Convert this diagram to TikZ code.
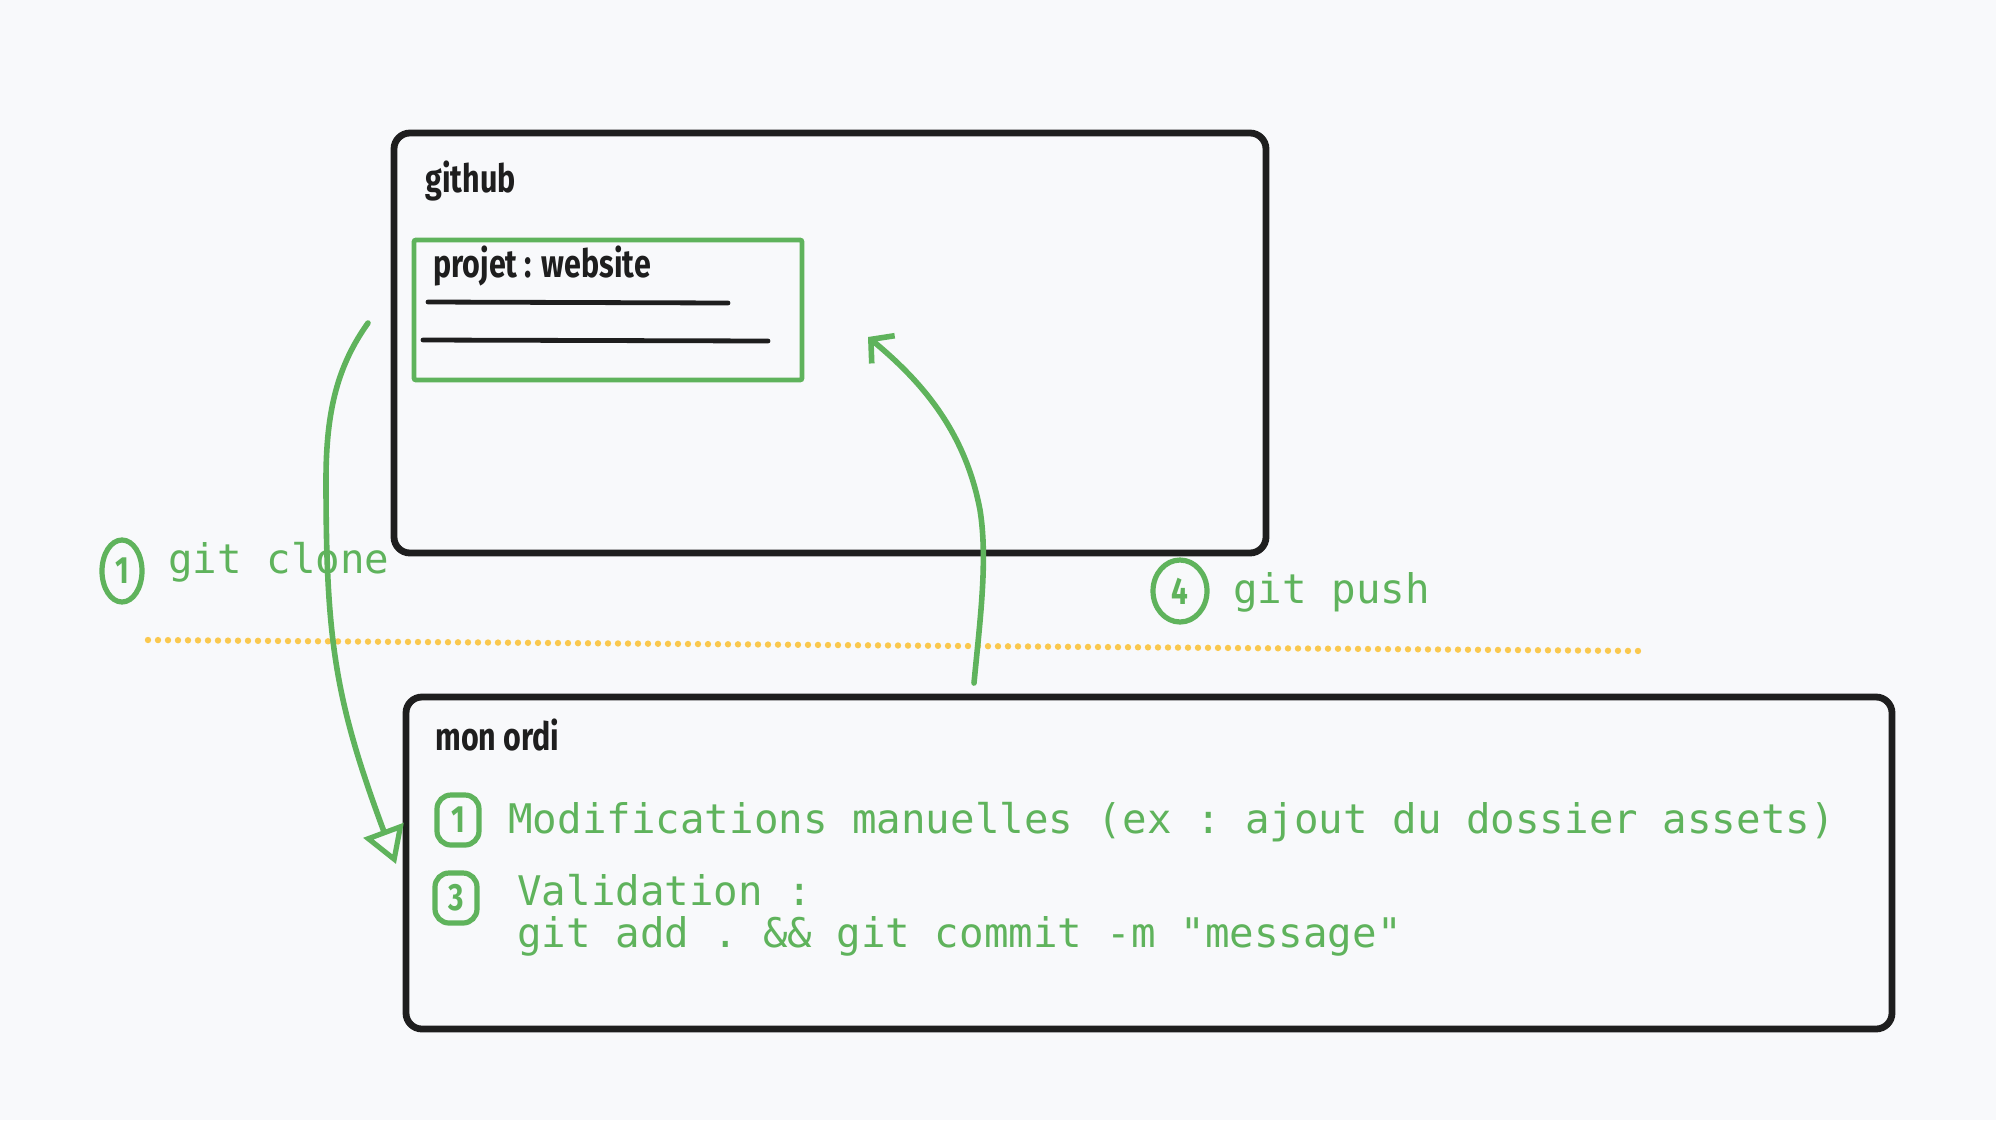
\documentclass[tikz,border=0pt]{standalone}
\usepackage{fontspec}
\setmonofont{DejaVu Sans Mono}
\newfontfamily\handfont{Fira Sans}[FakeStretch=0.78]
\usetikzlibrary{arrows.meta,shapes.geometric}
\definecolor{exgreen}{HTML}{5FB35C}
\definecolor{exink}{HTML}{1E1E1E}
\definecolor{exyellow}{HTML}{FAC84E}
\definecolor{expaper}{HTML}{F8F9FB}
\tikzset{
    box/.style={draw=exink, line width=3.4pt, rounded corners=8pt, inner sep=0pt},
    repo/.style={draw=exgreen, line width=2.4pt, rounded corners=1pt, inner sep=0pt},
    title/.style={font=\handfont\bfseries\fontsize{19.5}{22}\selectfont, text=exink, anchor=base west, inner sep=0pt},
    cmd/.style={font=\ttfamily\fontsize{20.4}{24}\selectfont, text=exgreen, anchor=base west, inner sep=0pt},
    stepmark/.style={draw=exgreen, line width=2.6pt, text=exgreen, inner sep=0pt,
        font=\handfont\bfseries\fontsize{19}{19}\selectfont},
    flow/.style={draw=exgreen, line width=2.8pt, line cap=round},
}

\begin{document}
\begin{tikzpicture}[x=0.5pt, y=-0.5pt]
        \path[use as bounding box, fill=expaper] (0,0) rectangle (1996,1120);
        % boxes
        \node (gh) [box, minimum width=436pt, minimum height=210pt] at (830, 343) {};
        \node (ordi) [box, minimum width=743pt, minimum height=166pt] at (1149, 863) {};
        \node (proj) [repo, minimum width=194pt, minimum height=70pt] at (608, 310) {};
        \node (gh-t) [title] at (425, 192) {github};
        \node (proj-t) [title] at (433, 277) {projet : website};
        \node (ordi-t) [title] at (435, 750) {mon ordi};
        \draw [exink, line width=2.4pt, line cap=round] (428, 302) -- (728, 303);
        \draw [exink, line width=2.4pt, line cap=round] (423, 340) -- (768, 341);
        % frontier
        \coordinate (line-a) at (148, 640);
        \coordinate (line-b) at (1645, 651);
        \draw [exyellow, line width=3.2pt, line cap=round, dash pattern=on 0pt off 5pt] (line-a) -- (line-b);
        % steps
        \node (m-clone) [stepmark, ellipse, minimum width=20pt, minimum height=31pt] at (122, 571) {1};
        \node (clone) [cmd] at (168, 573) {git clone};
        \node (m-push) [stepmark, ellipse, minimum width=27pt, minimum height=31pt] at (1180, 591) {4};
        \node (push) [cmd] at (1233, 603) {git push};
        \node (m-edit) [stepmark, rounded corners=7pt, minimum width=21pt, minimum height=25pt] at (458, 820) {1};
        \node (edit) [cmd] at (508, 833) {Modifications manuelles (ex : ajout du dossier assets)};
        \node (m-val) [stepmark, rounded corners=7pt, minimum width=21pt, minimum height=25pt] at (456, 898) {3};
        \node (val) [cmd] at (517, 905) {Validation :};
        \node (commit) [cmd] at (517, 947) {git add . \&\& git commit -m "message"};
        % arrows
        \coordinate (cl-a) at (368, 323);
        \coordinate (cl-b) at (396, 864);
        \coordinate (pu-a) at (974, 683);
        \coordinate (pu-b) at (868, 337);
        \draw [flow, -{Triangle[open, length=18pt, width=21pt, line width=2.6pt]}] (cl-a)
                .. controls (338, 365) and (326, 410) .. (326, 480)
                .. controls (326, 640) and (335, 700) .. (cl-b);
        \draw [flow, -{Straight Barb[length=8pt, width=18pt]}] (pu-a)
                .. controls (980, 620) and (988, 560) .. (980, 510)
                .. controls (965, 430) and (920, 380) .. (pu-b);
\end{tikzpicture}
\end{document}
